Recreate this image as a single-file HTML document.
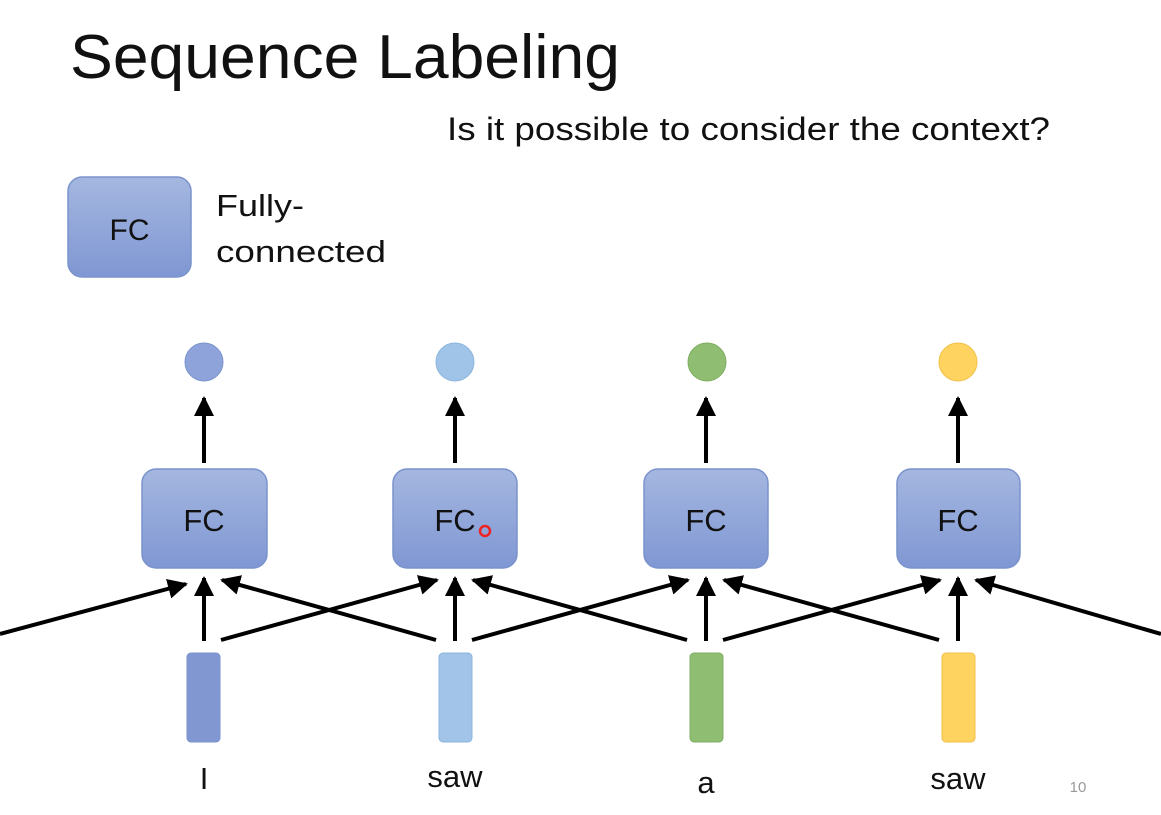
<!DOCTYPE html>
<html><head><meta charset="utf-8"><style>
html,body{margin:0;padding:0;background:#fff;}
svg{display:block;font-family:"Liberation Sans","DejaVu Sans",sans-serif;}
</style></head><body>
<svg width="1161" height="815" viewBox="0 0 1161 815" xmlns="http://www.w3.org/2000/svg">
<defs>
<linearGradient id="g" x1="0" y1="0" x2="0" y2="1"><stop offset="0" stop-color="#a5b7e0"/><stop offset="1" stop-color="#7f97d3"/></linearGradient>
<marker id="a" markerWidth="5" markerHeight="5" refX="4.5" refY="2.5" orient="auto" markerUnits="strokeWidth"><path d="M0,0 L5,2.5 L0,5 Z" fill="#000"/></marker>
</defs>
<text x="70" y="78" font-size="62" fill="#111" textLength="550" lengthAdjust="spacingAndGlyphs">Sequence Labeling</text>
<text x="447" y="140" font-size="32" fill="#111" textLength="603" lengthAdjust="spacingAndGlyphs">Is it possible to consider the context?</text>
<rect x="68" y="177" width="123" height="100" rx="14" fill="url(#g)" stroke="#7a93cc" stroke-width="1.5"/>
<text x="129.5" y="240" font-size="30" text-anchor="middle" fill="#111">FC</text>
<text x="216" y="216" font-size="31" fill="#111" textLength="88" lengthAdjust="spacingAndGlyphs">Fully-</text>
<text x="216" y="262" font-size="31" fill="#111" textLength="170" lengthAdjust="spacingAndGlyphs">connected</text>

<g stroke="#000" stroke-width="4" marker-end="url(#a)">
<line x1="204" y1="463" x2="204" y2="398"/>
<line x1="455" y1="463" x2="455" y2="398"/>
<line x1="706" y1="463" x2="706" y2="398"/>
<line x1="958" y1="463" x2="958" y2="398"/>
<line x1="204" y1="641" x2="204" y2="578"/>
<line x1="455" y1="641" x2="455" y2="578"/>
<line x1="706" y1="641" x2="706" y2="578"/>
<line x1="958" y1="641" x2="958" y2="578"/>
<line x1="0" y1="634" x2="186" y2="584"/>
<line x1="221" y1="640" x2="437" y2="580"/>
<line x1="472" y1="640" x2="688" y2="580"/>
<line x1="723" y1="640" x2="940" y2="580"/>
<line x1="436" y1="640" x2="222" y2="580"/>
<line x1="687" y1="640" x2="473" y2="580"/>
<line x1="939" y1="640" x2="724" y2="580"/>
<line x1="1161" y1="634" x2="976" y2="580"/>
</g>

<g stroke="#7a93cc" stroke-width="1.5" fill="url(#g)">
<rect x="142" y="469" width="125" height="99" rx="14"/>
<rect x="393" y="469" width="124" height="99" rx="14"/>
<rect x="644" y="469" width="124" height="99" rx="14"/>
<rect x="897" y="469" width="123" height="99" rx="14"/>
</g>
<g font-size="31" text-anchor="middle" fill="#111">
<text x="204" y="531">FC</text><text x="455" y="531">FC</text><text x="706" y="531">FC</text><text x="958" y="531">FC</text>
</g>
<circle cx="485" cy="531" r="5" fill="none" stroke="#e22" stroke-width="2.5"/>

<circle cx="204" cy="362" r="19" fill="#8ea3d9" stroke="#7a93cc"/>
<circle cx="455" cy="362" r="19" fill="#9fc4e8" stroke="#8cb4dc"/>
<circle cx="707" cy="362" r="19" fill="#8fbd72" stroke="#7fae62"/>
<circle cx="958" cy="362" r="19" fill="#ffd360" stroke="#f0c04a"/>

<rect x="187" y="653" width="33" height="89" rx="4" fill="#8197d2" stroke="#7a93cc"/>
<rect x="439" y="653" width="33" height="89" rx="4" fill="#a2c4e8" stroke="#8cb4dc"/>
<rect x="690" y="653" width="33" height="89" rx="4" fill="#8fbd72" stroke="#7fae62"/>
<rect x="942" y="653" width="33" height="89" rx="4" fill="#ffd360" stroke="#f0c04a"/>

<g font-size="31" text-anchor="middle" fill="#111">
<text x="204" y="789">I</text><text x="455" y="787">saw</text><text x="706" y="793">a</text><text x="958" y="789">saw</text>
</g>
<text x="1078" y="792" font-size="15" fill="#999" text-anchor="middle">10</text>
</svg>
</body></html>
